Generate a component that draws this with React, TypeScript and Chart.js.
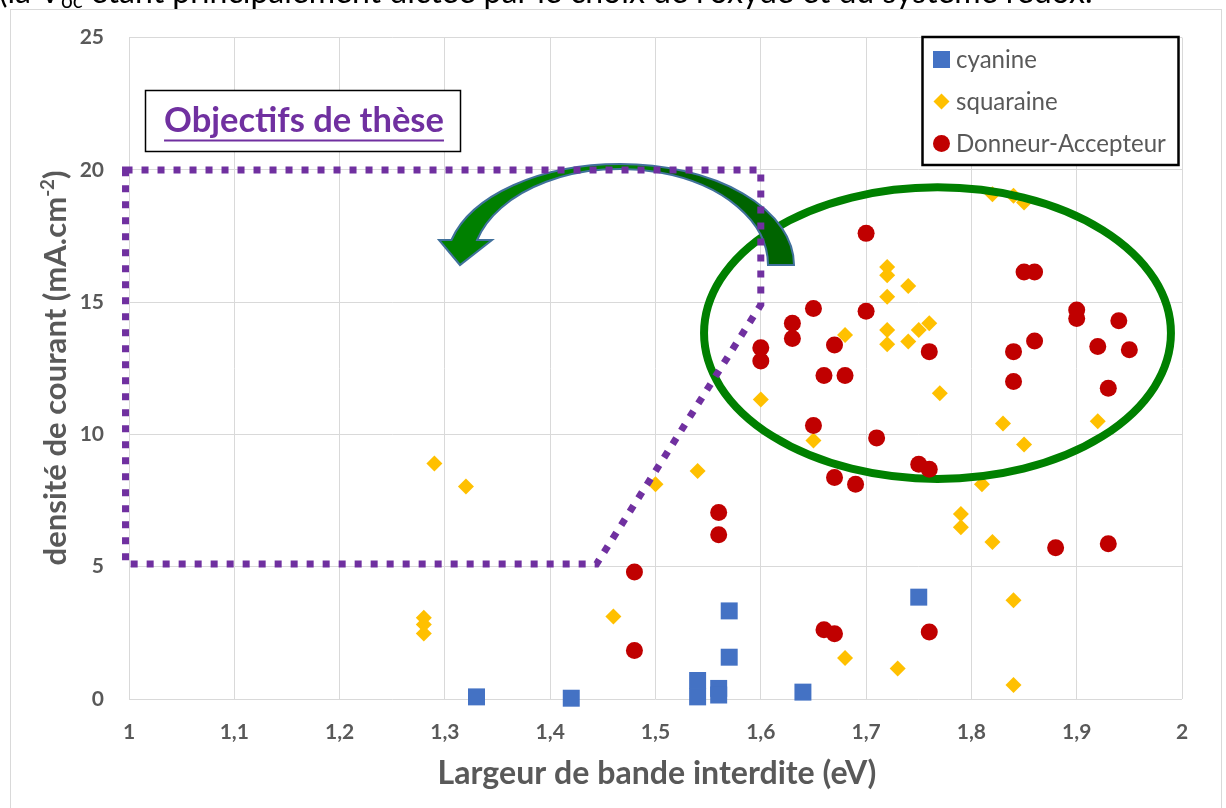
import React, { useEffect, useRef } from 'react';
import { Chart, registerables } from 'chart.js';

Chart.register(...registerables);

// ---------- data ----------
const seriesNames = ['cyanine', 'squaraine', 'Donneur-Accepteur'];
const seriesColors = ['#4472C4', '#FFC000', '#C00000'];

const cyanineX = [1.33, 1.42, 1.54, 1.54, 1.56, 1.56, 1.57, 1.57, 1.64, 1.75];
const cyanineY = [0.08, 0.03, 0.7, 0.08, 0.4, 0.15, 3.33, 1.58, 0.26, 3.85];

const squaraineX = [1.28, 1.28, 1.28, 1.29, 1.32, 1.46, 1.5, 1.54, 1.6, 1.65, 1.68, 1.68, 1.72, 1.72, 1.72, 1.72, 1.72, 1.73, 1.74, 1.74, 1.75, 1.76, 1.77, 1.79, 1.79, 1.81, 1.82, 1.82, 1.83, 1.84, 1.84, 1.84, 1.85, 1.85, 1.92];
const squaraineY = [3.07, 2.82, 2.48, 8.9, 8.03, 3.12, 8.12, 8.62, 11.32, 9.77, 13.76, 1.55, 16.33, 16.02, 15.2, 13.95, 13.41, 1.15, 15.61, 13.51, 13.95, 14.2, 11.56, 6.99, 6.49, 8.12, 19.08, 5.93, 10.41, 19.02, 3.73, 0.53, 18.77, 9.62, 10.5];

const daX = [1.48, 1.48, 1.56, 1.56, 1.6, 1.6, 1.63, 1.63, 1.65, 1.65, 1.66, 1.66, 1.67, 1.67, 1.67, 1.68, 1.69, 1.7, 1.7, 1.71, 1.75, 1.76, 1.76, 1.76, 1.84, 1.84, 1.85, 1.86, 1.86, 1.88, 1.9, 1.9, 1.92, 1.93, 1.93, 1.94, 1.95];
const daY = [4.8, 1.83, 7.05, 6.21, 13.28, 12.78, 14.2, 13.63, 14.76, 10.34, 12.23, 2.62, 13.38, 8.37, 2.47, 12.23, 8.12, 17.6, 14.66, 9.87, 8.87, 8.68, 13.13, 2.53, 13.13, 12.0, 16.14, 16.14, 13.53, 5.72, 14.7, 14.38, 13.32, 11.75, 5.87, 14.3, 13.2];

const xTickValues = [1, 1.1, 1.2, 1.3, 1.4, 1.5, 1.6, 1.7, 1.8, 1.9, 2];
const xTickLabels = ['1', '1,1', '1,2', '1,3', '1,4', '1,5', '1,6', '1,7', '1,8', '1,9', '2'];
const yTickValues = [0, 5, 10, 15, 20, 25];
const yTickLabels = ['0', '5', '10', '15', '20', '25'];

const xTitle = 'Largeur de bande interdite (eV)';
const yTitleMain = 'densité de courant (mA.cm';
const yTitleSup = '-2';
const yTitleEnd = ')';
const goalLabel = 'Objectifs de thèse';
const topTextA = '(la V';
const topTextSub = 'oc';
const topTextB = ' étant principalement dictée par le choix de l’oxyde et du système redox.';

// annotation shapes in data units
const goalZoneX = [0.9967, 1.6, 1.6, 1.444, 0.9967];
const goalZoneY = [20, 20, 14.9, 5.1, 5.1];
const ellipseCenter = [1.7678, 13.83];
const ellipseRadii = [0.2217, 5.51];

// ---------- styling ----------
const FONT = 'Lato, "Open Sans", "DejaVu Sans", sans-serif';
const GREY = '#595959';
const PURPLE = '#7030A0';
const GRID = '#D9D9D9';

function zip(xs: number[], ys: number[]) {
  return xs.map((x, i) => ({ x, y: ys[i] }));
}

function widthAt(ctx: CanvasRenderingContext2D, text: string, weight: string, size: number) {
  ctx.font = `${weight} ${size}px ${FONT}`;
  return ctx.measureText(text).width;
}

function fit(ctx: CanvasRenderingContext2D, text: string, weight: string, target: number) {
  const w = widthAt(ctx, text, weight, 100);
  return (100 * target) / w;
}

function drawEllipse(chart: any) {
  const ctx = chart.ctx as CanvasRenderingContext2D;
  const xs = chart.scales.x, ys = chart.scales.y;
  const cx = xs.getPixelForValue(ellipseCenter[0]);
  const cy = ys.getPixelForValue(ellipseCenter[1]);
  const rx = xs.getPixelForValue(ellipseCenter[0] + ellipseRadii[0]) - cx;
  const ry = cy - ys.getPixelForValue(ellipseCenter[1] + ellipseRadii[1]);
  ctx.save();
  ctx.beginPath();
  ctx.ellipse(cx, cy, rx, ry, 0, 0, Math.PI * 2);
  ctx.lineWidth = 8;
  ctx.strokeStyle = '#008000';
  ctx.stroke();
  ctx.restore();
}

function arrowPath(ctx: CanvasRenderingContext2D) {
  const cx = 620, cy = 265;
  const oRx = 174, oRy = 101, iRx = 148, iRy = 96;
  const tOut = -(Math.PI - Math.asin(25 / oRy));
  const tIn = -(Math.PI - Math.asin(25 / iRy));
  ctx.beginPath();
  ctx.moveTo(cx + oRx, cy);
  ctx.ellipse(cx, cy, oRx, oRy, 0, 0, tOut, true);
  ctx.lineTo(439, 240);
  ctx.lineTo(460, 265);
  ctx.lineTo(492, 240);
  ctx.lineTo(cx + iRx * Math.cos(tIn), cy + iRy * Math.sin(tIn));
  ctx.ellipse(cx, cy, iRx, iRy, 0, tIn, 0, false);
  ctx.closePath();
}

function drawArrow(chart: any) {
  const ctx = chart.ctx as CanvasRenderingContext2D;
  ctx.save();
  arrowPath(ctx);
  ctx.fillStyle = '#008000';
  ctx.fill();
  ctx.save();
  arrowPath(ctx);
  ctx.clip();
  ctx.fillStyle = '#006400';
  ctx.fillRect(660, 100, 200, 200);
  ctx.restore();
  arrowPath(ctx);
  ctx.lineWidth = 2;
  ctx.strokeStyle = '#41719C';
  ctx.lineJoin = 'miter';
  ctx.stroke();
  ctx.restore();
}

function drawGoalZone(chart: any) {
  const ctx = chart.ctx as CanvasRenderingContext2D;
  const xs = chart.scales.x, ys = chart.scales.y;
  ctx.save();
  ctx.beginPath();
  goalZoneX.forEach((x, i) => {
    const px = xs.getPixelForValue(x);
    const py = ys.getPixelForValue(goalZoneY[i]);
    if (i === 0) ctx.moveTo(px, py);
    else ctx.lineTo(px, py);
  });
  ctx.closePath();
  ctx.setLineDash([7, 9]);
  ctx.lineWidth = 7;
  ctx.lineCap = 'butt';
  ctx.strokeStyle = PURPLE;
  ctx.stroke();
  ctx.restore();
}

function drawGoalBox(chart: any) {
  const ctx = chart.ctx as CanvasRenderingContext2D;
  ctx.save();
  ctx.fillStyle = '#fff';
  ctx.fillRect(145, 90, 316, 62);
  ctx.lineWidth = 1.5;
  ctx.strokeStyle = '#000';
  ctx.strokeRect(145.5, 90.5, 315, 61);
  const size = fit(ctx, goalLabel, 'bold', 280);
  ctx.font = `bold ${size}px ${FONT}`;
  ctx.fillStyle = PURPLE;
  ctx.textAlign = 'center';
  ctx.textBaseline = 'alphabetic';
  const w = ctx.measureText(goalLabel).width;
  const cx = 304;
  ctx.fillText(goalLabel, cx, 132);
  ctx.fillRect(cx - w / 2, 139.5, w, 2);
  ctx.restore();
}

function drawLegend(chart: any) {
  const ctx = chart.ctx as CanvasRenderingContext2D;
  ctx.save();
  ctx.fillStyle = '#fff';
  ctx.fillRect(922, 36, 257, 130);
  ctx.lineWidth = 2.5;
  ctx.strokeStyle = '#000';
  ctx.strokeRect(922.5, 37, 256, 128);
  const size = fit(ctx, seriesNames[2], 'normal', 210);
  const rows = [59.5, 101.5, 143.5];
  const mx = 941.5;
  ctx.fillStyle = seriesColors[0];
  ctx.fillRect(mx - 8.5, rows[0] - 8.5, 17, 17);
  ctx.fillStyle = seriesColors[1];
  ctx.beginPath();
  ctx.moveTo(mx, rows[1] - 8);
  ctx.lineTo(mx + 8, rows[1]);
  ctx.lineTo(mx, rows[1] + 8);
  ctx.lineTo(mx - 8, rows[1]);
  ctx.closePath();
  ctx.fill();
  ctx.fillStyle = seriesColors[2];
  ctx.beginPath();
  ctx.arc(mx, rows[2], 8.5, 0, Math.PI * 2);
  ctx.fill();
  ctx.font = `normal ${size}px ${FONT}`;
  ctx.fillStyle = GREY;
  ctx.textAlign = 'left';
  ctx.textBaseline = 'middle';
  seriesNames.forEach((n, i) => ctx.fillText(n, 956, rows[i] + 1));
  ctx.restore();
}

function drawTitles(chart: any) {
  const ctx = chart.ctx as CanvasRenderingContext2D;
  ctx.save();
  ctx.fillStyle = GREY;
  const xs = fit(ctx, xTitle, 'bold', 439);
  ctx.font = `bold ${xs}px ${FONT}`;
  ctx.textAlign = 'center';
  ctx.textBaseline = 'middle';
  ctx.fillText(xTitle, 657, 774);
  const wm = widthAt(ctx, yTitleMain, 'bold', 100);
  const we = widthAt(ctx, yTitleEnd, 'bold', 100);
  const ws = widthAt(ctx, yTitleSup, 'bold', 60);
  const s = (100 * 395) / (wm + we + ws);
  const mainW = widthAt(ctx, yTitleMain, 'bold', s);
  const supW = widthAt(ctx, yTitleSup, 'bold', s * 0.6);
  const endW = widthAt(ctx, yTitleEnd, 'bold', s);
  const total = mainW + supW + endW;
  ctx.translate(55, 368);
  ctx.rotate(-Math.PI / 2);
  ctx.textAlign = 'left';
  ctx.textBaseline = 'alphabetic';
  const base = s * 0.36;
  let x = -total / 2;
  ctx.font = `bold ${s}px ${FONT}`;
  ctx.fillText(yTitleMain, x, base);
  x += mainW;
  ctx.font = `bold ${s * 0.6}px ${FONT}`;
  ctx.fillText(yTitleSup, x, base - s * 0.38);
  x += supW;
  ctx.font = `bold ${s}px ${FONT}`;
  ctx.fillText(yTitleEnd, x, base);
  ctx.restore();
}

function drawTopText(chart: any) {
  const ctx = chart.ctx as CanvasRenderingContext2D;
  ctx.save();
  const wa = widthAt(ctx, topTextA, 'normal', 100);
  const wb = widthAt(ctx, topTextB, 'normal', 100);
  const wsub = widthAt(ctx, topTextSub, 'normal', 65);
  const s = (100 * 1094) / (wa + wb + wsub);
  ctx.fillStyle = '#000';
  ctx.textBaseline = 'alphabetic';
  ctx.textAlign = 'left';
  let x = -1;
  const base = 3;
  ctx.font = `normal ${s}px ${FONT}`;
  ctx.fillText(topTextA, x, base);
  x += widthAt(ctx, topTextA, 'normal', s);
  ctx.font = `normal ${s * 0.65}px ${FONT}`;
  ctx.fillText(topTextSub, x, base + s * 0.15);
  x += widthAt(ctx, topTextSub, 'normal', s * 0.65);
  ctx.font = `normal ${s}px ${FONT}`;
  ctx.fillText(topTextB, x, base);
  ctx.restore();
}

const overlayPlugin = {
  id: 'overlay',
  beforeDraw(chart: any) {
    const ctx = chart.ctx as CanvasRenderingContext2D;
    ctx.save();
    ctx.fillStyle = '#fff';
    ctx.fillRect(0, 0, chart.width, chart.height);
    ctx.strokeStyle = GRID;
    ctx.lineWidth = 1;
    ctx.strokeRect(10.5, 9.5, 1211, 820);
    ctx.restore();
    drawTopText(chart);
  },
  afterDatasetDraw(chart: any, args: any) {
    if (args.index === 1) drawEllipse(chart);
  },
  afterDraw(chart: any) {
    drawArrow(chart);
    drawGoalZone(chart);
    drawGoalBox(chart);
    drawLegend(chart);
    drawTitles(chart);
  },
};

export default function App() {
  const ref = useRef<HTMLCanvasElement | null>(null);

  useEffect(() => {
    if (!ref.current) return;
    const tickFont = { family: FONT, size: 21, weight: 'bold' as const };
    const chart = new Chart(ref.current, {
      type: 'scatter',
      data: {
        datasets: [
          {
            label: seriesNames[0],
            data: zip(cyanineX, cyanineY),
            backgroundColor: seriesColors[0],
            borderColor: seriesColors[0],
            borderWidth: 0,
            pointStyle: 'rect',
            pointRadius: 12,
            order: 2,
            clip: false as any,
          },
          {
            label: seriesNames[1],
            data: zip(squaraineX, squaraineY),
            backgroundColor: seriesColors[1],
            borderColor: seriesColors[1],
            borderWidth: 0,
            pointStyle: 'rectRot',
            pointRadius: 8,
            order: 1,
            clip: false as any,
          },
          {
            label: seriesNames[2],
            data: zip(daX, daY),
            backgroundColor: seriesColors[2],
            borderColor: seriesColors[2],
            borderWidth: 0,
            pointStyle: 'circle',
            pointRadius: 8.5,
            order: 0,
            clip: false as any,
          },
        ],
      },
      options: {
        responsive: false,
        animation: false,
        devicePixelRatio: 1,
        layout: { padding: { left: 10, right: 44, top: 34, bottom: 0 } },
        plugins: {
          legend: { display: false },
          tooltip: { enabled: false },
          title: { display: false },
        },
        scales: {
          x: {
            type: 'linear',
            min: 1,
            max: 2,
            afterFit: (s: any) => { s.height = 109; },
            afterBuildTicks: (s: any) => { s.ticks = xTickValues.map((v) => ({ value: v })); },
            ticks: {
              callback: (_v: any, i: number) => xTickLabels[i],
              font: tickFont,
              color: GREY,
              padding: 21,
              maxRotation: 0,
              autoSkip: false,
            },
            grid: { color: GRID, lineWidth: 1, drawTicks: false },
            border: { display: false },
          },
          y: {
            type: 'linear',
            min: 0,
            max: 25,
            afterFit: (s: any) => { s.width = 119; },
            afterBuildTicks: (s: any) => { s.ticks = yTickValues.map((v) => ({ value: v })); },
            ticks: {
              callback: (_v: any, i: number) => yTickLabels[i],
              font: tickFont,
              color: GREY,
              padding: 25,
              autoSkip: false,
            },
            grid: { color: GRID, lineWidth: 1, drawTicks: false },
            border: { display: false },
          },
        },
      },
      plugins: [overlayPlugin],
    });
    return () => chart.destroy();
  }, []);

  return (
    <div style={{ position: 'fixed', left: 0, top: 0, width: 1226, height: 808, background: '#fff' }}>
      <canvas ref={ref} width={1226} height={808} style={{ display: 'block', width: 1226, height: 808 }} />
    </div>
  );
}
